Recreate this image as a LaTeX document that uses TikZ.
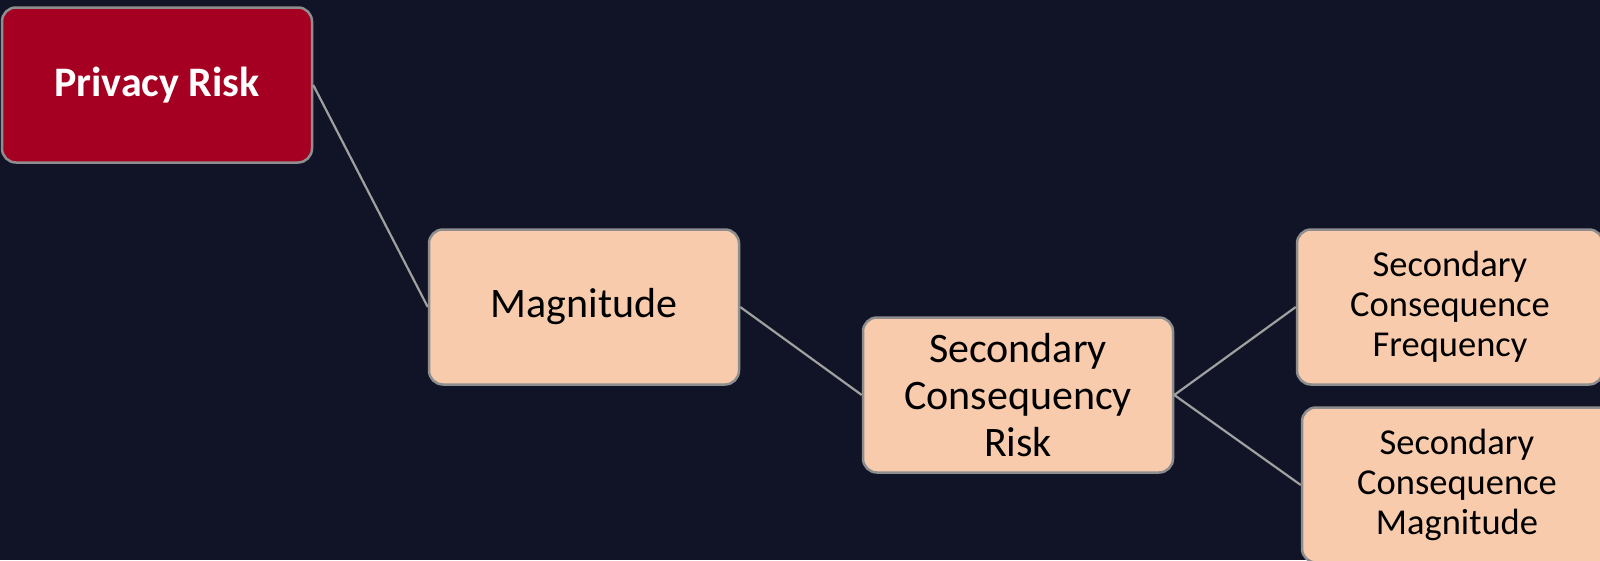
\documentclass[tikz,border=0pt]{standalone}
\usepackage{fontspec}
\setmainfont{Carlito}
\definecolor{bgnavy}{HTML}{111427}
\definecolor{riskred}{HTML}{A50021}
\definecolor{peach}{HTML}{F8CBAD}
\definecolor{edgegray}{HTML}{8E8E8E}
\definecolor{linkgray}{HTML}{A0A0A0}
\tikzset{
  box/.style={draw=edgegray, line width=2.5pt, rounded corners=14pt,
    minimum width=310pt, minimum height=155pt, inner sep=0pt,
    align=center, text=black, fill=peach},
  rootbox/.style={box, fill=riskred, text=white,
    font=\bfseries\fontsize{42}{46}\selectfont},
  midbox/.style={box, font=\fontsize{42}{47}\selectfont},
  leafbox/.style={box, font=\fontsize{36.5}{40}\selectfont},
  link/.style={draw=linkgray, line width=2.2pt}
}
\begin{document}
\begin{tikzpicture}[x=1pt,y=-1pt]
  \fill[bgnavy] (0,0) rectangle (1600,560);
  \useasboundingbox (0,0) rectangle (1600,560);

  \node[rootbox] (risk) at (157,85) {Privacy Risk};
  \node[midbox] (mag) at (584,307) {Magnitude};
  \node[midbox] (scr) at (1018,395) {Secondary\\Consequency\\Risk};
  \node[leafbox, minimum width=306pt] (scf) at (1450,307) {Secondary\\Consequence\\Frequency};
  \node[leafbox] (scm) at (1457,485) {Secondary\\Consequence\\Magnitude};

  \draw[link] (risk.east) -- (mag.west);
  \draw[link] (mag.east) -- (scr.west);
  \draw[link] (scr.east) -- (scf.west);
  \draw[link] (scr.east) -- (scm.west);
\end{tikzpicture}
\end{document}
